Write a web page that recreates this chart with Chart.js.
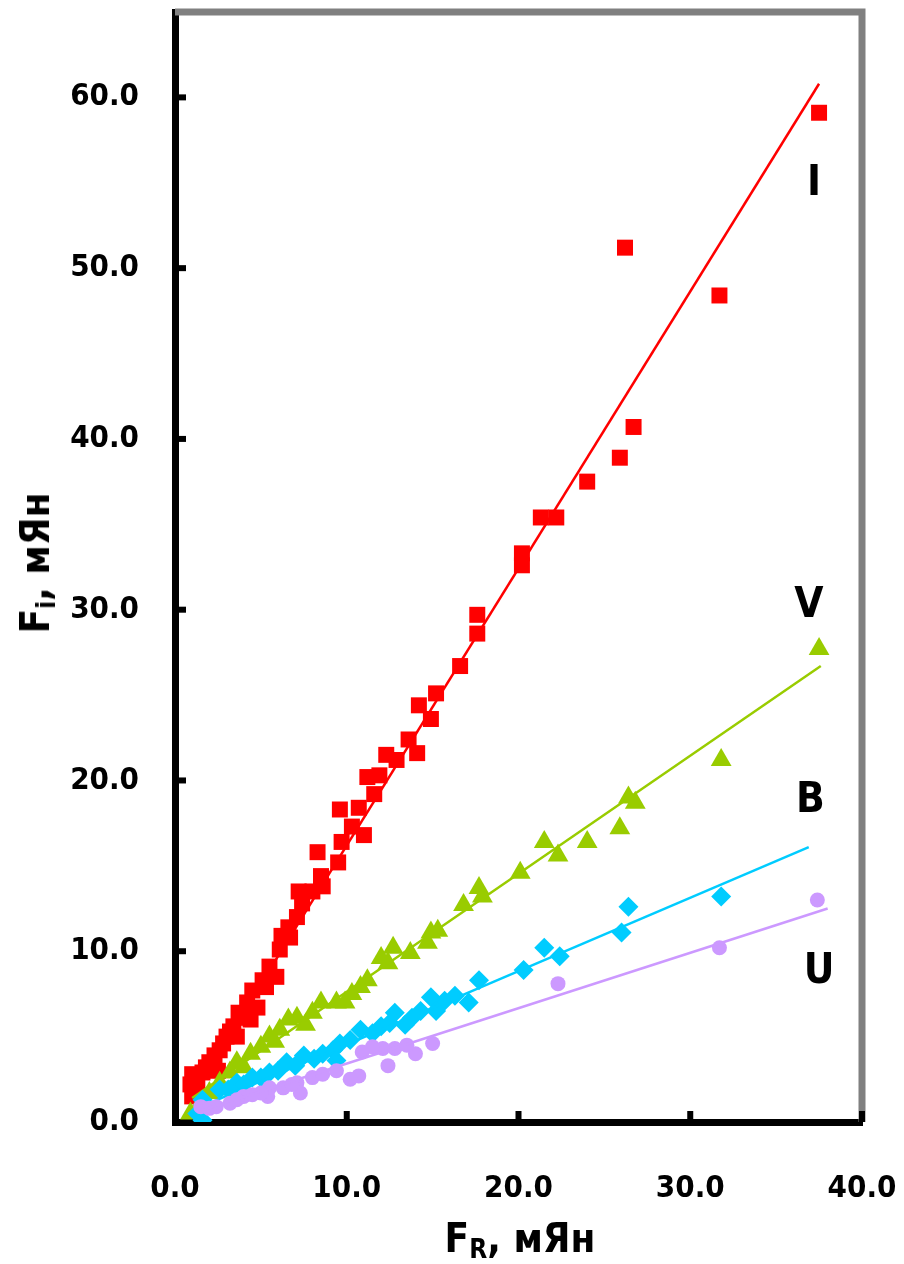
<!DOCTYPE html>
<html lang="ru">
<head>
    <meta charset="UTF-8">
    <title>Fi от FR</title>
    <script src="https://cdn.jsdelivr.net/npm/chart.js"></script>
    <style>
        body {
            margin: 0;
            background: #fff;
        }
        #wrap {
            position: relative;
            width: 904px;
            height: 1264px;
        }
        .axis-title {
            position: absolute;
            font-family: "DejaVu Sans Condensed", "DejaVu Sans", sans-serif;
            font-weight: bold;
            font-size: 40px;
            color: #000;
            white-space: nowrap;
            line-height: 1;
        }
        .axis-title sub {
            font-size: 26px;
            vertical-align: -6px;
        }
        #xTitle {
            left: 520px;
            top: 1240px;
            transform: translate(-50%, -50%);
        }
        #yTitle {
            left: 37px;
            top: 563px;
            transform: translate(-50%, -50%) rotate(-90deg);
        }
    </style>
</head>
<body>
<div id="wrap">
    <canvas id="chart" width="904" height="1264"></canvas>
    <div class="axis-title" id="xTitle">F<sub>R</sub>, мЯн</div>
    <div class="axis-title" id="yTitle">F<sub>i</sub>, мЯн</div>
</div>
<script>
    // оси
    const xTickValues = [0, 10, 20, 30, 40];
    const yTickValues = [0, 10, 20, 30, 40, 50, 60];

    // полоса I (квадраты)
    const pointsI = [
        [37.5, 59.1], [26.2, 51.2], [31.7, 48.4], [26.7, 40.7], [25.9, 38.9], [24.0, 37.5],
        [21.3, 35.4], [22.2, 35.4], [20.2, 33.3], [20.2, 32.6], [17.6, 29.7], [17.6, 28.6],
        [16.6, 26.7], [15.2, 25.1], [14.2, 24.4], [14.9, 23.6], [13.6, 22.4], [14.1, 21.6],
        [12.3, 21.5], [12.9, 21.2], [11.2, 20.2], [11.9, 20.3], [11.6, 19.2], [9.6, 18.3],
        [10.7, 18.4], [10.3, 17.3], [11.0, 16.8], [9.7, 16.4], [8.3, 15.8], [9.5, 15.2],
        [8.5, 14.4], [8.6, 13.8], [7.2, 13.5], [8.0, 13.5], [7.4, 12.8], [7.1, 12.0],
        [6.6, 11.4], [6.2, 10.9], [6.1, 10.1], [6.7, 10.8], [5.5, 9.1], [5.1, 8.3],
        [5.9, 8.5], [4.5, 7.7], [4.2, 7.0], [4.8, 6.7], [4.4, 6.0], [4.1, 6.1], [3.4, 5.6],
        [3.0, 5.0], [2.6, 4.2], [2.0, 3.5], [1.6, 2.9], [1.0, 2.8], [1.3, 2.3], [1.0, 1.5],
        [1.2, 1.9], [3.7, 6.4], [2.3, 3.9], [1.8, 3.2], [5.3, 7.9], [3.2, 5.3],
        [2.5, 3.0], [0.9, 2.2], [2.8, 4.6], [3.6, 5.0]
    ];
    const fitI = [[1.0, 1.6], [37.5, 60.8]];

    // полоса V (треугольники)
    const pointsV = [
        [37.5, 27.7], [31.8, 21.2], [26.8, 18.7], [26.4, 19.0], [25.9, 17.2], [24.0, 16.4],
        [22.3, 15.6], [21.5, 16.4], [20.1, 14.6], [17.7, 13.7], [17.9, 13.2], [16.8, 12.7],
        [15.3, 11.2], [14.9, 11.1], [14.7, 10.5], [13.7, 9.9], [12.7, 10.2], [12.0, 9.6],
        [12.4, 9.3], [11.2, 8.3], [10.8, 7.9], [10.3, 7.5], [9.9, 7.0], [9.4, 7.0],
        [8.5, 7.0], [8.0, 6.4], [7.1, 6.1], [6.6, 6.0], [6.1, 5.4], [5.5, 5.0], [5.0, 4.4],
        [4.4, 4.0], [3.6, 3.5], [3.2, 2.9], [2.6, 2.3], [2.0, 1.7], [1.5, 1.1], [0.9, 0.5],
        [5.8, 4.7], [7.6, 5.7], [4.0, 3.2]
    ];
    const fitV = [[1.0, 1.4], [37.6, 26.7]];

    // полоса B (ромбы)
    const pointsB = [
        [31.8, 13.2], [26.4, 12.6], [26.0, 11.1], [21.5, 10.2], [22.4, 9.7], [20.3, 8.9],
        [17.7, 8.3], [17.1, 7.0], [16.3, 7.4], [15.7, 7.1], [14.9, 7.3], [15.2, 6.5],
        [14.3, 6.5], [13.8, 6.1], [13.4, 5.7], [12.8, 6.4], [12.5, 5.8], [12.0, 5.6],
        [11.5, 5.2], [10.8, 5.4], [10.2, 4.8], [9.6, 4.6], [9.2, 4.2], [9.4, 3.6],
        [8.6, 4.0], [7.5, 3.9], [6.5, 3.5], [5.5, 2.9], [4.5, 2.6], [3.6, 2.3], [2.6, 1.9],
        [1.6, 1.3], [1.3, 0.5], [1.6, 0.1], [7.0, 3.3], [6.0, 3.0], [5.0, 2.6], [4.0, 2.2],
        [3.1, 1.9], [8.1, 3.7]
    ];
    const fitB = [[1.3, 0.8], [36.9, 16.1]];

    // полоса U (круги)
    const pointsU = [
        [37.4, 13.0], [31.7, 10.2], [22.3, 8.1], [15.0, 4.6], [14.0, 4.0], [13.5, 4.5],
        [12.8, 4.3], [12.4, 3.3], [12.1, 4.3], [11.5, 4.4], [10.9, 4.1], [10.7, 2.7],
        [10.2, 2.5], [9.4, 3.0], [8.0, 2.6], [7.1, 2.3], [7.3, 1.7], [6.3, 2.0], [5.5, 2.0],
        [5.4, 1.5], [5.0, 1.7], [4.0, 1.5], [3.2, 1.1], [2.4, 0.9], [1.5, 0.9],
        [4.5, 1.6], [3.6, 1.3], [6.8, 2.2], [8.6, 2.8], [2.0, 0.8]
    ];
    const fitU = [[1.3, 0.6], [38.0, 12.5]];

    // подписи полос
    const bandNames = ['I', 'V', 'B', 'U'];
    const bandLabelPos = [[37.2, 54.9], [36.9, 30.2], [37.0, 18.8], [37.5, 8.8]];

    const toXY = arr => arr.map(p => ({x: p[0], y: p[1]}));

    function pts(data, color, style, radius, order) {
        return {
            type: 'scatter',
            data: toXY(data),
            pointStyle: style,
            pointRadius: radius,
            pointHoverRadius: radius,
            backgroundColor: color,
            borderColor: color,
            borderWidth: 0,
            order: order
        };
    }

    function fit(data, color, order) {
        return {
            type: 'scatter',
            data: toXY(data),
            showLine: true,
            borderColor: color,
            borderWidth: 2.5,
            pointRadius: 0,
            fill: false,
            order: order
        };
    }

    const FONT = '"DejaVu Sans Condensed", "DejaVu Sans", sans-serif';

    /* убираем автоматические отступы под подписи */
    function noPad(s) {
        s.paddingLeft = 0;
        s.paddingRight = 0;
        s.paddingTop = 0;
        s.paddingBottom = 0;
    }

    /* рамка, засечки и подписи полос */
    const decor = {
        id: 'decor',
        afterDatasetsDraw(chart) {
            const {ctx, chartArea: a, scales: {x, y}} = chart;
            ctx.save();
            // серая рамка сверху и справа
            ctx.strokeStyle = '#808080';
            ctx.lineWidth = 7;
            ctx.beginPath();
            ctx.moveTo(a.left, a.top);
            ctx.lineTo(a.right, a.top);
            ctx.lineTo(a.right, a.bottom);
            ctx.stroke();
            // засечки внутрь
            ctx.fillStyle = '#000';
            yTickValues.forEach(v => {
                if (v === 0) return;
                const py = y.getPixelForValue(v);
                ctx.fillRect(a.left, py - 3, 11, 6);
            });
            xTickValues.forEach(v => {
                if (v === 0) return;
                const px = x.getPixelForValue(v);
                ctx.fillRect(px - 3, a.bottom - 11, 6, 11);
            });
            // подписи
            ctx.font = 'bold 42px ' + FONT;
            ctx.textAlign = 'center';
            ctx.textBaseline = 'middle';
            bandNames.forEach((n, i) => {
                ctx.fillText(n, x.getPixelForValue(bandLabelPos[i][0]), y.getPixelForValue(bandLabelPos[i][1]));
            });
            ctx.restore();
        }
    };

    new Chart(document.getElementById('chart'), {
        type: 'scatter',
        data: {
            datasets: [
                fit(fitU, '#CC99FF', 0),
                pts(pointsU, '#CC99FF', 'circle', 7.5, 1),
                fit(fitB, '#00CCFF', 2),
                pts(pointsB, '#00CCFF', 'rectRot', 10, 3),
                fit(fitV, '#99CC00', 4),
                pts(pointsV, '#99CC00', 'triangle', 12, 5),
                fit(fitI, '#FF0000', 6),
                pts(pointsI, '#FF0000', 'rect', 11.3, 7)
            ]
        },
        options: {
            responsive: false,
            animation: false,
            layout: {padding: {left: 0, top: 12, right: 42, bottom: 0}},
            plugins: {
                legend: {display: false},
                tooltip: {enabled: false}
            },
            scales: {
                x: {
                    type: 'linear',
                    min: 0,
                    max: 40,
                    afterBuildTicks: s => { s.ticks = xTickValues.map(v => ({value: v})); },
                    afterFit: s => { s.height = 142; noPad(s); },
                    grid: {display: false},
                    border: {display: true, color: '#000', width: 7},
                    ticks: {
                        color: '#000',
                        padding: 40,
                        font: {family: FONT, size: 31, weight: 'bold'},
                        callback: v => v.toFixed(1)
                    }
                },
                y: {
                    type: 'linear',
                    min: 0,
                    max: 65,
                    afterBuildTicks: s => { s.ticks = yTickValues.map(v => ({value: v})); },
                    afterFit: s => { s.width = 175; noPad(s); },
                    grid: {display: false},
                    border: {display: true, color: '#000', width: 7},
                    ticks: {
                        color: '#000',
                        padding: 28,
                        font: {family: FONT, size: 31, weight: 'bold'},
                        callback: v => v.toFixed(1)
                    }
                }
            }
        },
        plugins: [decor]
    });
</script>
</body>
</html>
